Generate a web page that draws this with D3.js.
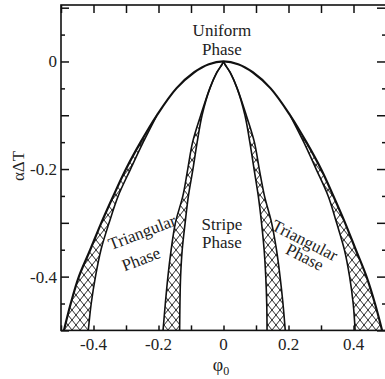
<!DOCTYPE html>
<html>
<head>
<meta charset="utf-8">
<script src="https://cdn.jsdelivr.net/npm/d3@7"></script>
<style>
body { margin: 0; background: #fff; }
text { font-family: "Liberation Serif", "Times New Roman", serif; fill: #222; }
</style>
</head>
<body>
<div id="chart"></div>
<script>
var tLevels = [0, -0.005, -0.02, -0.05, -0.1, -0.15, -0.2, -0.25, -0.3, -0.35, -0.4, -0.45, -0.5];

// outer boundary (uniform | triangular)
var outerLeft  = [0, -0.045, -0.09, -0.145, -0.205, -0.255, -0.3, -0.339, -0.376, -0.41, -0.445, -0.47, -0.491];
var outerRight = [0, 0.045, 0.09, 0.145, 0.205, 0.255, 0.3, 0.338, 0.374, 0.407, 0.44, 0.466, 0.488];
// inner edge of the outer coexistence band
var outerBandLeft  = [0, -0.045, -0.09, -0.145, -0.205, -0.247, -0.286, -0.324, -0.352, -0.377, -0.394, -0.407, -0.416];
var outerBandRight = [0, 0.045, 0.09, 0.145, 0.205, 0.247, 0.285, 0.322, 0.348, 0.372, 0.388, 0.399, 0.405];
// central coexistence bands (triangular | stripe)
var stripeOuterLeft  = [0, -0.004, -0.02, -0.042, -0.07, -0.095, -0.11, -0.125, -0.148, -0.161, -0.171, -0.179, -0.186];
var stripeInnerLeft  = [0, -0.004, -0.02, -0.042, -0.066, -0.081, -0.094, -0.108, -0.118, -0.127, -0.132, -0.134, -0.135];
var stripeOuterRight = [0, 0.004, 0.02, 0.042, 0.07, 0.095, 0.11, 0.126, 0.148, 0.163, 0.174, 0.183, 0.19];
var stripeInnerRight = [0, 0.004, 0.02, 0.042, 0.066, 0.081, 0.094, 0.107, 0.117, 0.125, 0.13, 0.133, 0.134];

// ticks and labels
var xTicks = [-0.5, -0.4, -0.3, -0.2, -0.1, 0, 0.1, 0.2, 0.3, 0.4, 0.5];
var xLabels = [-0.4, -0.2, 0, 0.2, 0.4];
var yMajor = [-0.5, -0.4, -0.3, -0.2, -0.1, 0, 0.1];
var yMinor = [-0.45, -0.35, -0.25, -0.15, -0.05, 0.05];
var yLabels = [0, -0.2, -0.4];

var phaseLabels = [
    { text: "Uniform", phi: -0.005, t: 0.058, rot: 0 },
    { text: "Phase", phi: -0.005, t: 0.022, rot: 0 },
    { text: "Stripe", phi: -0.005, t: -0.303, rot: 0 },
    { text: "Phase", phi: -0.005, t: -0.337, rot: 0 },
    { text: "Triangular", phi: -0.25, t: -0.318, rot: -21 },
    { text: "Phase", phi: -0.254, t: -0.368, rot: -21 },
    { text: "Triangular", phi: 0.25, t: -0.333, rot: 27 },
    { text: "Phase", phi: 0.25, t: -0.364, rot: 27 }
];

//Setup
var width = 385, height = 379;
var x = d3.scaleLinear().domain([-0.5, 0.5]).range([61, 386]);
var y = d3.scaleLinear().domain([-0.5, 0.105]).range([330.4, 5]);

var svg = d3.select("#chart").append("svg")
    .attr("width", width)
    .attr("height", height);

// cross hatch pattern
var pat = svg.append("defs").append("pattern")
    .attr("id", "hatch")
    .attr("patternUnits", "userSpaceOnUse")
    .attr("width", 8)
    .attr("height", 10);
pat.append("path")
    .attr("d", "M-1,-1.25 L9,11.25 M9,-1.25 L-1,11.25")
    .attr("stroke", "#111")
    .attr("stroke-width", 0.9);

function pts(xs) {
    return xs.map(function (v, i) { return { phi: v, t: tLevels[i] }; });
}
function band(a, b) {
    return a.map(function (v, i) { return { a: v, b: b[i], t: tLevels[i] }; });
}

var line = d3.line()
    .x(function (d) { return x(d.phi); })
    .y(function (d) { return y(d.t); })
    .curve(d3.curveCatmullRom);

var area = d3.area()
    .y(function (d) { return y(d.t); })
    .x0(function (d) { return x(d.a); })
    .x1(function (d) { return x(d.b); })
    .curve(d3.curveCatmullRom);

var plot = svg.append("g");

// hatched coexistence regions
[[outerLeft, outerBandLeft], [outerRight, outerBandRight],
 [stripeOuterLeft, stripeInnerLeft], [stripeOuterRight, stripeInnerRight]].forEach(function (p) {
    plot.append("path")
        .attr("fill", "url(#hatch)")
        .attr("d", area(band(p[0], p[1])));
});

// boundaries
var outerFull = pts(outerLeft).slice().reverse().concat(pts(outerRight).slice(1));
plot.append("path")
    .attr("fill", "none").attr("stroke", "#111").attr("stroke-width", 2.2)
    .attr("d", line(outerFull));

[outerBandLeft, outerBandRight].forEach(function (s) {
    plot.append("path")
        .attr("fill", "none").attr("stroke", "#111").attr("stroke-width", 1.6)
        .attr("d", line(pts(s).slice(4)));
});

[stripeOuterLeft, stripeInnerLeft, stripeOuterRight, stripeInnerRight].forEach(function (s) {
    plot.append("path")
        .attr("fill", "none").attr("stroke", "#111").attr("stroke-width", 1.6)
        .attr("d", line(pts(s)));
});

// frame
svg.append("rect")
    .attr("x", x(-0.5)).attr("y", y(0.105))
    .attr("width", x(0.5) - x(-0.5)).attr("height", y(-0.5) - y(0.105))
    .attr("fill", "none").attr("stroke", "#111").attr("stroke-width", 1.6);

// ticks
function drawAxis(axis, tx, ty) {
    var g = svg.append("g").attr("transform", "translate(" + tx + "," + ty + ")").call(axis);
    g.select(".domain").remove();
    g.selectAll("line").attr("stroke", "#111").attr("stroke-width", 1.5);
    g.selectAll("text").remove();
}
drawAxis(d3.axisBottom(x).tickValues(xTicks).tickSize(-5), 0, y(-0.5));
drawAxis(d3.axisTop(x).tickValues(xTicks).tickSize(-8), 0, y(0.105));
drawAxis(d3.axisLeft(y).tickValues(yMajor).tickSize(-8), x(-0.5), 0);
drawAxis(d3.axisLeft(y).tickValues(yMinor).tickSize(-4), x(-0.5), 0);
drawAxis(d3.axisRight(y).tickValues(yMajor).tickSize(-9), x(0.5), 0);
drawAxis(d3.axisRight(y).tickValues(yMinor).tickSize(-4), x(0.5), 0);

// tick labels
svg.selectAll(".xlab").data(xLabels).enter().append("text")
    .attr("x", function (d) { return x(d); })
    .attr("y", 350)
    .attr("text-anchor", "middle")
    .style("font-size", "17px")
    .text(function (d) { return d === 0 ? "0" : d.toFixed(1); });

svg.selectAll(".ylab").data(yLabels).enter().append("text")
    .attr("x", 57)
    .attr("y", function (d) { return y(d); })
    .attr("dy", "0.35em")
    .attr("text-anchor", "end")
    .style("font-size", "17px")
    .text(function (d) { return d === 0 ? "0" : d.toFixed(1); });

// axis titles
var xt = svg.append("text")
    .attr("x", 221)
    .attr("y", 371)
    .attr("text-anchor", "middle")
    .style("font-size", "18px");
xt.append("tspan").text("φ");
xt.append("tspan").attr("dy", 4).style("font-size", "12px").text("0");

svg.append("text")
    .attr("transform", "translate(24,166) rotate(-90)")
    .attr("text-anchor", "middle")
    .style("font-size", "17px")
    .text("αΔT");

// phase labels
svg.selectAll(".phase").data(phaseLabels).enter().append("text")
    .attr("transform", function (d) {
        return "translate(" + x(d.phi) + "," + y(d.t) + ") rotate(" + d.rot + ")";
    })
    .attr("text-anchor", "middle")
    .attr("dy", "0.32em")
    .style("font-size", "17px")
    .text(function (d) { return d.text; });
</script>
</body>
</html>
